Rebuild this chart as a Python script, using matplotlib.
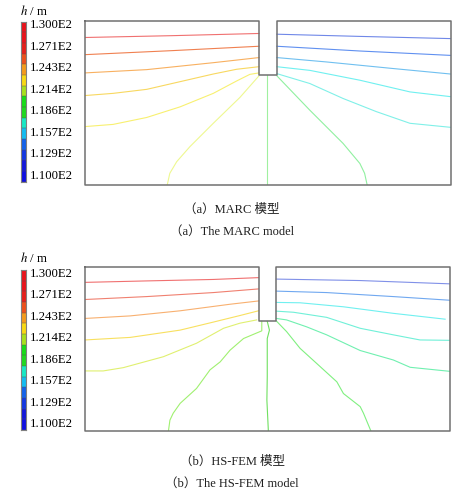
import numpy as np
import matplotlib
matplotlib.use('Agg')
import matplotlib.pyplot as plt

plt.rcParams['font.family'] = ['Liberation Serif', 'Noto Sans CJK SC', 'DejaVu Sans']

# legend of the head field (m)
h_ticks = [130.0, 127.14, 124.29, 121.43, 118.57, 115.71, 112.86, 110.0]
band_colors = ['#e8141c', '#e8141c', '#e4201c', '#ec501c', '#f49a1c', '#f8d814',
               '#a8e01c', '#18dc18', '#20d820', '#18e8c4', '#14bcf0', '#1462e8',
               '#1438e0', '#1418d8', '#1010e0']

# domain outline (x, y in m)
outline = [(0, 45), (47.6, 45), (47.6, 30), (52.5, 30), (52.5, 45), (100, 45),
           (100, 0), (0, 0), (0, 45)]

# (a) MARC contour lines
marc_1 = [(0, 40.4), (23.8, 40.9), (47.6, 41.5)]
marc_2 = [(0, 35.7), (23.8, 36.8), (47.6, 38.0)]
marc_3 = [(0, 30.7), (16.9, 31.6), (35.1, 33.5), (47.6, 34.9)]
marc_4 = [(0, 24.5), (7.7, 25.1), (16.9, 26.2), (26.0, 28.3), (35.1, 30.4),
          (41.5, 31.7), (47.6, 32.4)]
marc_5 = [(0, 16.0), (7.7, 16.6), (16.9, 18.5), (26.0, 21.4), (35.1, 25.1),
          (41.5, 28.5), (45.1, 30.3), (47.6, 30.7)]
marc_6 = [(47.6, 29.9), (42.4, 24.0), (35.1, 16.9), (28.7, 10.5), (25.1, 6.4),
          (23.2, 3.2), (22.5, 0)]
marc_7 = [(49.9, 30), (49.9, 0)]
marc_8 = [(52.5, 29.9), (61.5, 20.5), (70.6, 11.4), (75.2, 5.9), (76.5, 3.2),
          (77.2, 0)]
marc_9 = [(52.5, 30.5), (61.5, 27.8), (70.6, 23.7), (79.7, 20.1), (88.9, 16.9),
          (100, 15.8)]
marc_10 = [(52.5, 32.4), (61.5, 31.4), (75.2, 28.7), (88.9, 25.5), (100, 24.2)]
marc_11 = [(52.5, 34.9), (66.1, 33.7), (84.3, 31.9), (100, 30.4)]
marc_12 = [(52.5, 38.0), (75.2, 36.7), (100, 35.5)]
marc_13 = [(52.5, 41.3), (75.2, 40.7), (100, 40.1)]
marc_lines = [marc_1, marc_2, marc_3, marc_4, marc_5, marc_6, marc_7,
              marc_8, marc_9, marc_10, marc_11, marc_12, marc_13]

# (b) HS-FEM contour lines
hs_1 = [(0, 40.7), (16.9, 41.1), (35.2, 41.5), (47.6, 42.0)]
hs_2 = [(0, 36.0), (16.9, 36.8), (35.2, 37.9), (47.6, 38.9)]
hs_3 = [(0, 30.8), (12.4, 31.5), (26.1, 32.9), (39.8, 34.7), (47.6, 35.6)]
hs_4 = [(0, 24.9), (12.4, 25.6), (26.1, 27.6), (35.2, 29.8), (42.5, 31.6),
        (47.6, 32.9)]
hs_5 = [(0, 16.4), (5.0, 16.4), (10.5, 17.3), (21.5, 20.3), (30.6, 24.0),
        (38.0, 28.1), (42.5, 29.5), (47.1, 30.4)]
hs_6 = [(48.5, 30), (48.5, 27.4), (43.5, 25.3), (39.8, 22.1), (37.1, 18.9),
        (34.3, 16.7), (30.6, 11.6), (26.1, 7.5), (24.2, 4.8), (23.3, 2.9),
        (22.9, 0)]
hs_7 = [(50.0, 30), (50.6, 27.6), (50.0, 25.3), (50.0, 14.8), (49.9, 8.4),
        (50.3, 0)]
hs_8 = [(52.5, 30.1), (55.3, 27.2), (59.0, 22.6), (64.5, 17.6), (69.1, 13.4),
        (70.9, 10.2), (75.5, 6.6), (76.4, 4.8), (78.4, 0)]
hs_9 = [(52.5, 30.8), (55.3, 30.4), (60.8, 28.5), (66.3, 26.3), (75.5, 22.0),
        (84.6, 19.4), (89.2, 17.4), (100, 16.3)]
hs_10 = [(52.5, 32.8), (57.2, 32.5), (66.3, 31.1), (75.5, 28.1), (84.6, 26.3),
         (91.9, 24.9), (100, 24.8)]
hs_11 = [(52.5, 35.2), (59.0, 35.1), (70.9, 34.0), (84.6, 32.2), (98.8, 30.6)]
hs_12 = [(52.5, 38.3), (66.3, 37.9), (84.6, 36.8), (100, 35.8)]
hs_13 = [(52.5, 41.6), (75.5, 41.2), (100, 40.3)]
hs_lines = [hs_1, hs_2, hs_3, hs_4, hs_5, hs_6, hs_7,
            hs_8, hs_9, hs_10, hs_11, hs_12, hs_13]

marc_colors = ['#f07070', '#f08050', '#f8b060', '#f8d860', '#f8f070', '#eef890',
               '#a0f0a0', '#90f0a0', '#80f0e8', '#70f0f0', '#70c0f0', '#6090f0',
               '#7088e8']
hs_colors = ['#f07070', '#f08070', '#f8b070', '#f8e060', '#e0f070', '#a0f070',
             '#70e060', '#80f080', '#70f0b0', '#70f0d8', '#70f0f0', '#70a8f0',
             '#8090e8']

W, H = 475, 494
fig = plt.figure(figsize=(W / 100, H / 100), dpi=100)


def px_axes(left, top, right, bottom):
    return fig.add_axes([left / W, 1 - bottom / H, (right - left) / W, (bottom - top) / H])


def draw_field(ax, lines, colors):
    for pts, c in zip(lines, colors):
        xs, ys = zip(*pts)
        ax.plot(xs, ys, color=c, lw=0.8, solid_joinstyle='round')
    ox, oy = zip(*outline)
    ax.plot(ox, oy, color='#707070', lw=1.1, clip_on=False)
    ax.set_xlim(0, 100)
    ax.set_ylim(0, 45)
    ax.axis('off')


def draw_legend(ax, label_y):
    n = len(band_colors)
    for i, c in enumerate(band_colors[::-1]):
        ax.axhspan(i, i + 1, color=c, lw=0)
        ax.axhline(i, color='#505050', lw=0.3)
    ax.set_xlim(0, 1)
    ax.set_ylim(0, n)
    ax.set_xticks([])
    ax.yaxis.tick_right()
    ax.set_yticks(np.linspace(14.8, 0.7, len(h_ticks)))
    ax.set_yticklabels([f'{v / 100:.3f}E2' for v in h_ticks], fontsize=9.2)
    ax.tick_params(axis='y', length=0, pad=2.5)
    for s in ax.spines.values():
        s.set_color('#808080')
        s.set_linewidth(0.8)
    fig.text(20 / W, 1 - label_y / H, r'$h$ / m', fontsize=9.2, va='center',
             ha='left', math_fontfamily='stix')


ax1 = px_axes(85, 20.7, 450.5, 185)
draw_field(ax1, marc_lines, marc_colors)
cb1 = px_axes(20.7, 21.7, 26, 181.7)
draw_legend(cb1, 11)

ax2 = px_axes(85, 266.7, 449.5, 430.7)
draw_field(ax2, hs_lines, hs_colors)
cb2 = px_axes(20.7, 270, 26, 430)
draw_legend(cb2, 258.3)

cx = 232 / W
cap = dict(fontsize=9, ha='center', va='center', color='#202020')
fig.text(cx, 1 - 209.3 / H, '（a）MARC 模型', **cap)
fig.text(cx, 1 - 231.7 / H, '（a）The MARC model', **cap)
fig.text(cx, 1 - 461.7 / H, '（b）HS-FEM 模型', **cap)
fig.text(cx, 1 - 484 / H, '（b）The HS-FEM model', **cap)

fig.savefig('out.png', dpi=100, facecolor='white')
